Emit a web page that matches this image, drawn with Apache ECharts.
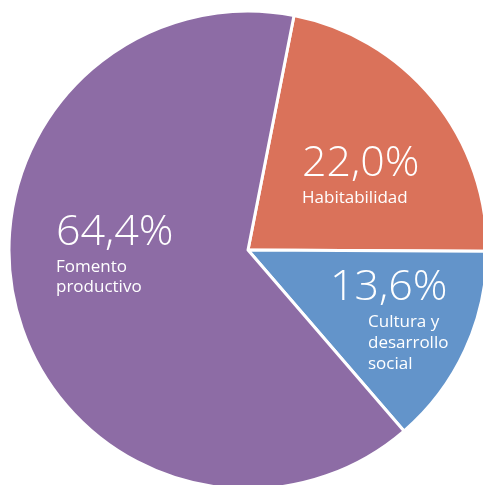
<!DOCTYPE html>
<html>
<head>
<meta charset="utf-8">
<script src="https://cdn.jsdelivr.net/npm/echarts@6/dist/echarts.min.js"></script>
<style>html,body{margin:0;padding:0;background:#fff}#c{width:483px;height:485px}</style>
</head>
<body>
<div id="c"></div>
<script>
var categories = ["Habitabilidad", "Cultura y desarrollo social", "Fomento productivo"];
var labelLines = [["Habitabilidad"], ["Cultura y", "desarrollo", "social"], ["Fomento", "productivo"]];
var values = [22.0, 13.6, 64.4];
var colors = ["#DA725A", "#6394CA", "#8D6CA5"];
var labelPos = [[302, 140], [330, 264], [56, 209]];

var chart = echarts.init(document.getElementById('c'), null, {renderer: 'canvas'});
var data = categories.map(function (n, i) {
  return {name: n, value: values[i], itemStyle: {color: colors[i]}};
});
chart.setOption({
  animation: false,
  series: [{
    type: 'pie',
    center: [248, 250],
    radius: 239,
    startAngle: 78.9,
    clockwise: true,
    avoidLabelOverlap: false,
    emphasis: {disabled: true},
    itemStyle: {borderColor: '#fff', borderWidth: 3},
    label: {
      show: true,
      position: 'inside',
      color: '#fff',
      align: 'left',
      formatter: function (p) {
        var key = p.dataIndex === 1 ? 'm' : 'n';
        var pct = p.value.toFixed(1).replace('.', ',') + '%';
        return '{p|' + pct + '}\n' + labelLines[p.dataIndex].map(function (l) {
          return '{' + key + '|' + l + '}';
        }).join('\n');
      },
      rich: {
        p: {fontFamily: 'Open Sans', fontWeight: 300, fontSize: 43, lineHeight: 48, color: '#fff'},
        n: {fontFamily: 'Open Sans', fontWeight: 400, fontSize: 17, lineHeight: 20, color: '#fff'},
        m: {fontFamily: 'Open Sans', fontWeight: 400, fontSize: 17, lineHeight: 21, color: '#fff', padding: [0, 0, 0, 38]}
      }
    },
    labelLine: {show: false},
    labelLayout: function (params) {
      var pos = labelPos[params.dataIndex];
      return {x: pos[0], y: pos[1], align: 'left', verticalAlign: 'top'};
    },
    data: data
  }]
});
</script>
</body>
</html>
